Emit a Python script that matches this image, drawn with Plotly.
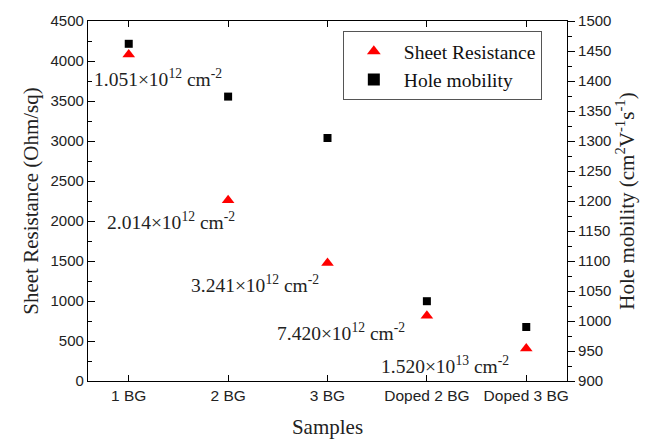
import plotly.graph_objects as go

samples = ["1 BG", "2 BG", "3 BG", "Doped 2 BG", "Doped 3 BG"]
sheet_resistance = [4080, 2260, 1475, 815, 405]
hole_mobility = [1462, 1374, 1305, 1033, 990]
carrier_labels = ["1.051×10<sup>12</sup> cm<sup>-2</sup>", "2.014×10<sup>12</sup> cm<sup>-2</sup>",
                  "3.241×10<sup>12</sup> cm<sup>-2</sup>", "7.420×10<sup>12</sup> cm<sup>-2</sup>",
                  "1.520×10<sup>13</sup> cm<sup>-2</sup>"]
label_x = [0.29, 0.43, 1.27, 2.14, 3.18]
label_y = [3790, 2000, 1215, 610, 195]

serif = "Liberation Serif, Times New Roman, serif"
sans = "Liberation Sans, Arial, sans-serif"

fig = go.Figure()
fig.add_trace(go.Scatter(x=list(range(5)), y=sheet_resistance, mode="markers", name="Sheet Resistance",
                         marker=dict(symbol="triangle-up", size=11, color="#ff0000"), yaxis="y"))
fig.add_trace(go.Scatter(x=list(range(5)), y=hole_mobility, mode="markers", name="Hole mobility",
                         marker=dict(symbol="square", size=8, color="#000000"), yaxis="y2"))

for lx, ly, t in zip(label_x, label_y, carrier_labels):
    fig.add_annotation(x=lx, y=ly, xref="x", yref="y", text=t, showarrow=False,
                       font=dict(family=serif, size=19.5, color="#222"))

fig.update_layout(
    width=652, height=444,
    margin=dict(l=88, r=85, t=15, b=63),
    paper_bgcolor="white", plot_bgcolor="white",
    showlegend=True,
    legend=dict(x=0.532, y=0.972, xanchor="left", yanchor="top", bordercolor="#555", borderwidth=1,
                bgcolor="white", font=dict(family=serif, size=19.5, color="#111"),
                itemsizing="constant", itemwidth=50, tracegroupgap=0),
    xaxis=dict(range=[-0.41, 4.41], tickvals=list(range(5)), ticktext=samples, automargin=False,
               showline=True, linecolor="black", linewidth=1.2, mirror="ticks",
               ticks="inside", ticklen=6, tickcolor="black", showgrid=False, zeroline=False,
               tickfont=dict(family=sans, size=15.5, color="#222"),
               title=dict(text="Samples", font=dict(family=serif, size=21, color="#222"), standoff=16)),
    yaxis=dict(range=[0, 4500], dtick=500, showline=True, linecolor="black", linewidth=1.2,
               ticks="inside", ticklen=7, tickcolor="black", showgrid=False, zeroline=False,
               minor=dict(dtick=250, ticks="inside", ticklen=4, tickcolor="black"),
               tickfont=dict(family=sans, size=15, color="#222"),
               title=dict(text="Sheet Resistance (Ohm/sq)", font=dict(family=serif, size=21, color="#222"), standoff=6)),
    yaxis2=dict(range=[900, 1500], dtick=50, overlaying="y", side="right", showline=True,
                linecolor="black", linewidth=1.2, ticks="outside", ticklen=7, tickcolor="black",
                showgrid=False, zeroline=False,
                minor=dict(dtick=25, ticks="outside", ticklen=4, tickcolor="black"),
                tickfont=dict(family=sans, size=15, color="#222"),
                title=dict(text="Hole mobility (cm<sup>2</sup>V<sup>-1</sup>s<sup>-1</sup>)",
                           font=dict(family=serif, size=21, color="#222"), standoff=8)),
)

fig.write_html("out.html")
